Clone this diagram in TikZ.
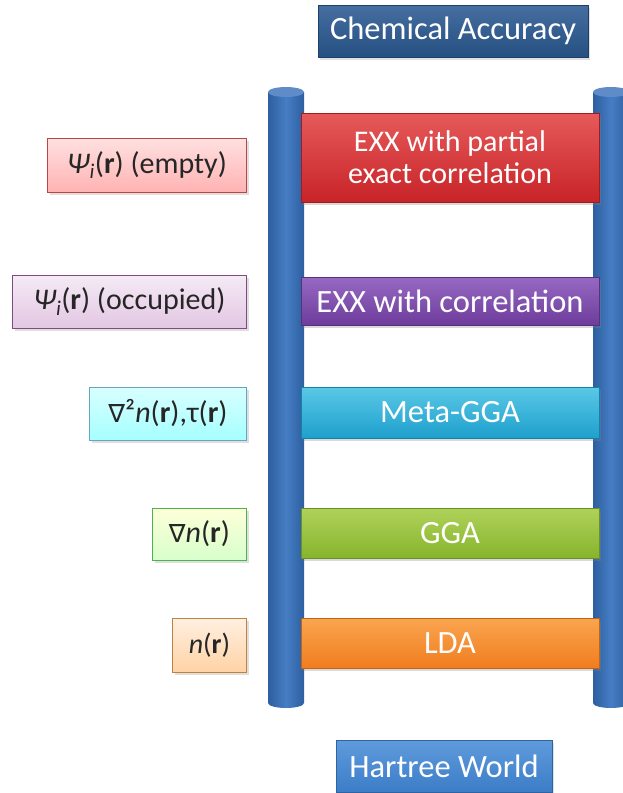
\documentclass[tikz,border=0pt]{standalone}
\usepackage{fontspec}
\setmainfont{Carlito}
\newfontfamily\symfont{DejaVu Sans}
\usetikzlibrary{shadows}
\definecolor{chemblue}{RGB}{38,80,130}
\definecolor{chemtop}{RGB}{70,110,160}
\definecolor{railmid}{RGB}{70,125,195}
\definecolor{raildark}{RGB}{45,95,160}
\definecolor{railtop}{RGB}{95,140,200}
\definecolor{redbar}{RGB}{200,35,40}
\definecolor{redtop}{RGB}{230,90,90}
\definecolor{purbar}{RGB}{110,60,155}
\definecolor{purtop}{RGB}{150,105,195}
\definecolor{cyanbar}{RGB}{30,160,205}
\definecolor{cyantop}{RGB}{90,200,230}
\definecolor{greenbar}{RGB}{135,180,45}
\definecolor{greentop}{RGB}{175,210,90}
\definecolor{orangebar}{RGB}{240,125,30}
\definecolor{orangetop}{RGB}{250,165,80}
\definecolor{hartblue}{RGB}{60,125,200}
\definecolor{harttop}{RGB}{95,155,220}
\tikzset{
  barbox/.style={minimum width=298pt, inner sep=0pt, text=white, align=center,
    font=\fontsize{32.5}{36}\selectfont, drop shadow={opacity=0.3,shadow xshift=2pt,shadow yshift=-3pt}},
  infobox/.style={anchor=east, inner sep=0pt, text=black!85, align=center,
    font=\fontsize{30}{33}\selectfont, line width=1pt, drop shadow={opacity=0.25,shadow xshift=2pt,shadow yshift=-3pt}},
  endbox/.style={inner sep=0pt, text=white, font=\fontsize{32.5}{36}\selectfont,
    drop shadow={opacity=0.25,shadow xshift=2pt,shadow yshift=-3pt}}
}
\begin{document}
\begin{tikzpicture}[x=1pt,y=-1pt]
\useasboundingbox (0,0) rectangle (623,793);
\clip (0,0) rectangle (623,793);
% rails
\foreach \cx in {286,611}{
  \path[left color=raildark,right color=raildark,middle color=railmid]
    (\cx-18,92) -- (\cx-18,703) arc[start angle=180,end angle=0,x radius=18,y radius=5] -- (\cx+18,92) -- cycle;
  \fill[railtop] (\cx,92) ellipse[x radius=18,y radius=5];
}
% top and bottom labels
\node[endbox, top color=chemtop, bottom color=chemblue, draw=chemblue!80!black, minimum width=270pt, minimum height=52pt] (chem) at (453,31) {Chemical Accuracy};
\node[endbox, top color=harttop, bottom color=hartblue, draw=hartblue!80!black, minimum width=216pt, minimum height=52pt] (hart) at (444,766) {Hartree World};
% rungs
\node[barbox, font=\fontsize{30}{34}\selectfont, top color=redtop, bottom color=redbar, draw=redbar!80!black, minimum height=89pt] (exxp) at (450,157.5) {EXX with partial\\[-2pt]exact correlation};
\node[barbox, top color=purtop, bottom color=purbar, draw=purbar!80!black, minimum height=48pt] (exx) at (450,301) {EXX with correlation};
\node[barbox, top color=cyantop, bottom color=cyanbar, draw=cyanbar!80!black, minimum height=51pt] (meta) at (450,412.5) {Meta-GGA};
\node[barbox, top color=greentop, bottom color=greenbar, draw=greenbar!80!black, minimum height=50pt] (gga) at (450,533) {GGA};
\node[barbox, top color=orangetop, bottom color=orangebar, draw=orangebar!80!black, minimum height=50pt] (lda) at (450,643) {LDA};
% ingredients
\node[infobox, top color=red!12, bottom color=red!30, draw=red!45!gray, minimum width=199pt, minimum height=54pt] (ie) at (247,165)
  {{\itshape Ψ}\textsubscript{\itshape i}(\textbf{r}) (empty)};
\node[infobox, top color=violet!8, bottom color=violet!22, draw=violet!40!gray, minimum width=234pt, minimum height=53pt] (io) at (247,301.5)
  {{\itshape Ψ}\textsubscript{\itshape i}(\textbf{r}) (occupied)};
\node[infobox, top color=cyan!15, bottom color=cyan!35, draw=cyan!50!gray, minimum width=157pt, minimum height=53pt] (il) at (247,413.5)
  {{\symfont\fontsize{25}{30}\selectfont ∇}²\textit{n}(\textbf{r}),τ(\textbf{r})};
\node[infobox, top color=lime!12!yellow!15, bottom color=lime!30!green!20, draw=green!40!gray, minimum width=94pt, minimum height=52pt] (ig) at (247,534)
  {{\symfont\fontsize{25}{30}\selectfont ∇}\textit{n}(\textbf{r})};
\node[infobox, font=\fontsize{28}{32}\selectfont, top color=orange!12, bottom color=orange!35, draw=orange!50!gray, minimum width=74pt, minimum height=54pt] (in) at (247,645)
  {\textit{n}(\textbf{r})};
\end{tikzpicture}
\end{document}
